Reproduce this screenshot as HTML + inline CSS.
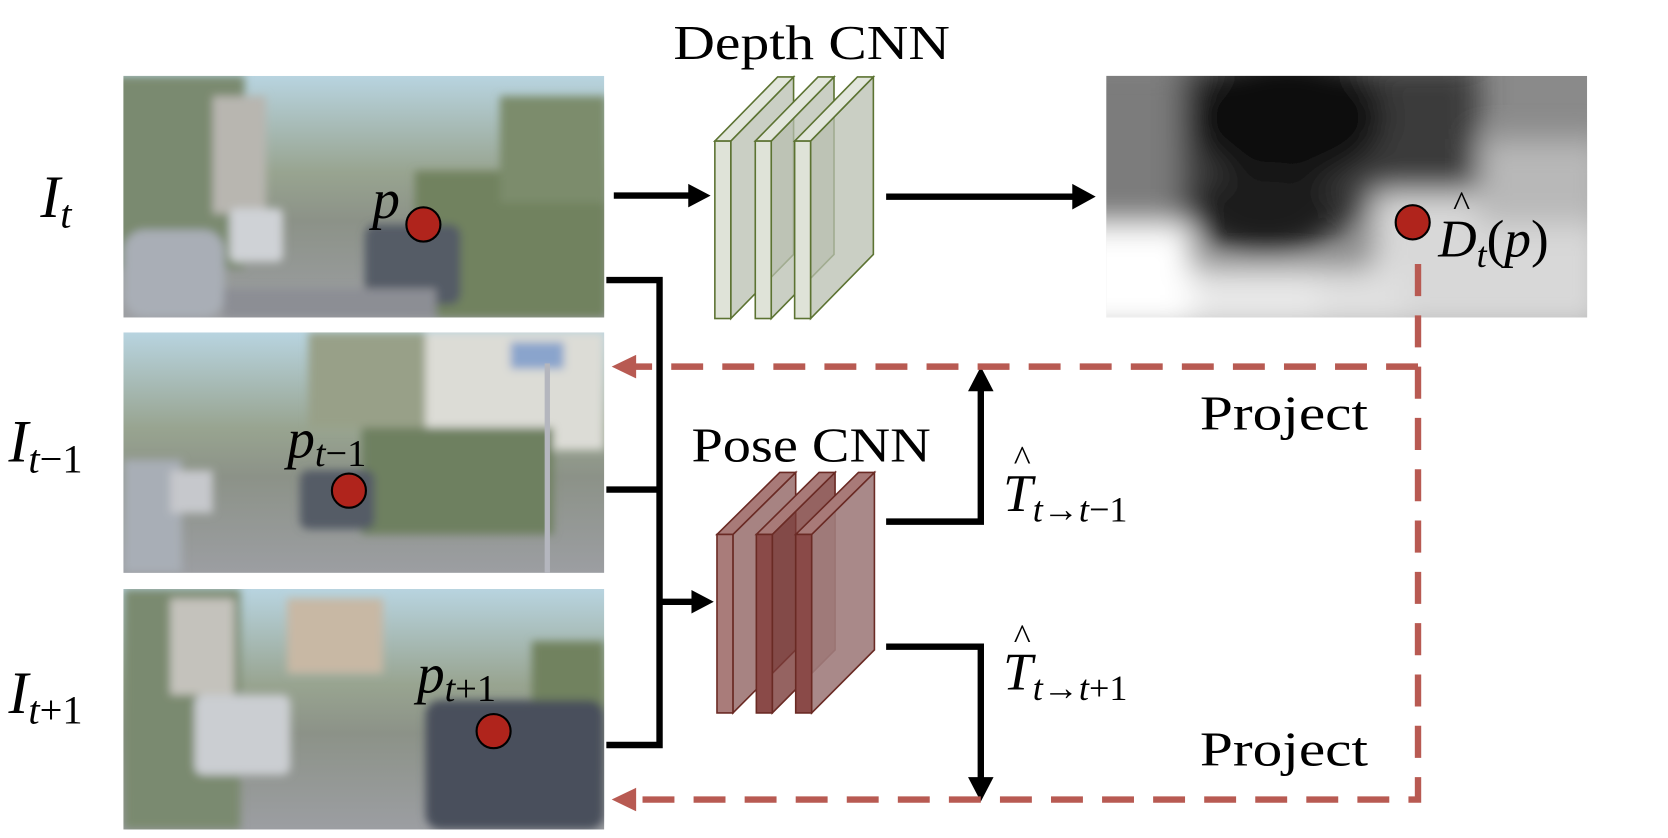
<!DOCTYPE html>
<html><head><meta charset="utf-8"><style>
html,body{margin:0;padding:0;background:#fff;}
svg{display:block;}
text{font-family:"Liberation Serif",serif;fill:#000;}
.m{font-style:italic;}
</style></head><body>
<svg width="1668" height="838" viewBox="0 0 1568 784" preserveAspectRatio="none">
<defs>
<linearGradient id="sky" x1="0" y1="0" x2="0" y2="1"><stop offset="0" stop-color="#b8d4e0"/><stop offset="0.4" stop-color="#98a490"/><stop offset="0.6" stop-color="#8c9288"/><stop offset="1" stop-color="#9c9ea2"/></linearGradient>
<filter id="bl" x="-20%" y="-20%" width="140%" height="140%"><feGaussianBlur stdDeviation="14"/></filter>
<filter id="bl2"><feGaussianBlur stdDeviation="4"/></filter>
<clipPath id="dc"><rect x="1040" y="71" width="452" height="226"/></clipPath>
<clipPath id="p1"><rect x="116" y="71" width="452" height="226"/></clipPath>
<clipPath id="p2"><rect x="116" y="311" width="452" height="225"/></clipPath>
<clipPath id="p3"><rect x="116" y="551" width="452" height="225"/></clipPath>
</defs>

<g clip-path="url(#p1)">
<rect x="116" y="71" width="452" height="226" fill="url(#sky)"/>
<g filter="url(#bl2)">
<rect x="100" y="71" width="130" height="180" fill="#7a8a70"/>
<rect x="200" y="90" width="50" height="110" fill="#b8b6b0"/>
<rect x="390" y="160" width="180" height="137" fill="#71825e"/>
<rect x="470" y="90" width="100" height="100" fill="#7c8c6c"/>
<rect x="116" y="215" width="95" height="82" rx="20" fill="#a9aeb6"/>
<rect x="343" y="210" width="90" height="75" rx="10" fill="#555b66"/>
<rect x="216" y="195" width="50" height="50" rx="6" fill="#cfd2d6"/>
<rect x="210" y="270" width="200" height="27" fill="#8c8e94"/>
</g>
</g>
<g clip-path="url(#p2)">
<rect x="116" y="311" width="452" height="225" fill="url(#sky)"/>
<g filter="url(#bl2)">
<rect x="290" y="311" width="110" height="90" fill="#98a088"/>
<rect x="400" y="311" width="168" height="110" fill="#dcdcd6"/>
<rect x="340" y="400" width="180" height="100" fill="#6e8060"/>
<rect x="116" y="430" width="55" height="106" fill="#a8aeb6"/>
<rect x="160" y="440" width="40" height="40" fill="#c6c8cc"/>
<rect x="282" y="440" width="70" height="55" rx="8" fill="#555b66"/>
<rect x="480" y="320" width="50" height="25" fill="#8aa4cc"/>
</g>
<rect x="512" y="340" width="5" height="196" fill="#b4b6be"/>
</g>
<g clip-path="url(#p3)">
<rect x="116" y="551" width="452" height="225" fill="url(#sky)"/>
<g filter="url(#bl2)">
<rect x="116" y="551" width="110" height="225" fill="#7a8a70"/>
<rect x="160" y="560" width="60" height="90" fill="#c4c2bc"/>
<rect x="270" y="560" width="90" height="70" fill="#c8b8a4"/>
<rect x="500" y="600" width="68" height="120" fill="#71825e"/>
<rect x="183" y="650" width="90" height="75" rx="8" fill="#cbced2"/>
<rect x="400" y="655" width="168" height="121" rx="14" fill="#4a505c"/>
</g>
</g>

<g clip-path="url(#dc)">
<rect x="1040" y="71" width="452" height="226" fill="#8a8a8a"/>
<g filter="url(#bl)">
<rect x="1000" y="60" width="120" height="150" fill="#7c7c7c"/>
<rect x="1110" y="60" width="280" height="150" fill="#3a3a3a"/>
<ellipse cx="1210" cy="110" rx="90" ry="60" fill="#080808"/>
<ellipse cx="1190" cy="200" rx="70" ry="40" fill="#1a1a1a"/>
<rect x="1000" y="210" width="120" height="100" fill="#ffffff"/>
<rect x="1120" y="250" width="120" height="60" fill="#e8e8e8"/>
<rect x="1290" y="180" width="220" height="130" fill="#d8d8d8"/>
<rect x="1390" y="130" width="120" height="80" fill="#b8b8b8"/>
<rect x="1240" y="250" width="80" height="60" fill="#e0e0e0"/>
</g>
</g>

<text x="38" y="203" font-size="56" class="m">I<tspan font-size="38" dy="10">t</tspan></text>
<text x="8" y="432" font-size="56" class="m">I<tspan font-size="38" dy="10">t</tspan><tspan font-size="38" font-style="normal">−1</tspan></text>
<text x="8" y="667" font-size="56" class="m">I<tspan font-size="38" dy="10">t</tspan><tspan font-size="38" font-style="normal">+1</tspan></text>

<text x="633" y="55" font-size="46" textLength="260" lengthAdjust="spacingAndGlyphs">Depth CNN</text>
<text x="650" y="432" font-size="46" textLength="225" lengthAdjust="spacingAndGlyphs">Pose CNN</text>

<g stroke="#5c7332" stroke-width="1.5">
<g><polygon points="687,132 746,72 746,238 687,298" fill="#b8bfb0" fill-opacity="0.75"/><polygon points="672,132 731,72 746,72 687,132" fill="#e2e6dc"/><rect x="672" y="132" width="15" height="166" fill="#dfe3d8"/></g>
<g><polygon points="725,132 784,72 784,238 725,298" fill="#b8bfb0" fill-opacity="0.75"/><polygon points="710,132 769,72 784,72 725,132" fill="#e2e6dc"/><rect x="710" y="132" width="15" height="166" fill="#dfe3d8"/></g>
<g><polygon points="762,132 821,72 821,238 762,298" fill="#b8bfb0" fill-opacity="0.75"/><polygon points="747,132 806,72 821,72 762,132" fill="#e2e6dc"/><rect x="747" y="132" width="15" height="166" fill="#dfe3d8"/></g>
</g>

<g stroke="#6a2a24" stroke-width="1.5">
<g><polygon points="689,500 748,442 748,608 689,667" fill="#8a5a58" fill-opacity="0.75"/><polygon points="674,500 733,442 748,442 689,500" fill="#a87a78"/><rect x="674" y="500" width="15" height="167" fill="#a97c7a"/></g>
<g><polygon points="726,500 785,442 785,608 726,667" fill="#7a3c3a" fill-opacity="0.8"/><polygon points="711,500 770,442 785,442 726,500" fill="#a87a78"/><rect x="711" y="500" width="15" height="167" fill="#8a4a48"/></g>
<g><polygon points="763,500 822,442 822,608 763,667" fill="#a07c7c" fill-opacity="0.9"/><polygon points="748,500 807,442 822,442 763,500" fill="#a87a78"/><rect x="748" y="500" width="15" height="167" fill="#8a4a48"/></g>
</g>

<g stroke="#000" stroke-width="6" fill="none">
<line x1="577" y1="183" x2="650" y2="183"/>
<line x1="833" y1="184" x2="1012" y2="184"/>
<polyline points="570,262 620,262 620,697 570,697"/>
<line x1="570" y1="458" x2="620" y2="458"/>
<line x1="620" y1="563" x2="652" y2="563"/>
<polyline points="833,488 922,488 922,362"/>
<polyline points="833,605 922,605 922,732"/>
</g>
<g fill="#000">
<polygon points="668,183 647,172 647,194"/>
<polygon points="1030,184 1008,172 1008,196"/>
<polygon points="671,563 650,552 650,574"/>
<polygon points="922,343 910,366 934,366"/>
<polygon points="922,750 910,727 934,727"/>
</g>

<g stroke="#b85a52" stroke-width="6" fill="none" stroke-dasharray="30,18">
<polyline points="1333,247 1333,343 595,343"/>
<polyline points="1333,343 1333,748 595,748"/>
</g>
<polygon points="575,343 598,332 598,354" fill="#b85a52"/>
<polygon points="575,748 598,737 598,759" fill="#b85a52"/>

<text x="1128" y="402" font-size="46" textLength="158" lengthAdjust="spacingAndGlyphs">Project</text>
<text x="1128" y="716" font-size="46" textLength="158" lengthAdjust="spacingAndGlyphs">Project</text>

<text x="943" y="478" font-size="50" class="m">T<tspan font-size="34" dy="10">t→t</tspan><tspan font-size="34" font-style="normal">−1</tspan></text>
<text x="953" y="440" font-size="34">^</text>
<text x="943" y="645" font-size="50" class="m">T<tspan font-size="34" dy="10">t→t</tspan><tspan font-size="34" font-style="normal">+1</tspan></text>
<text x="953" y="607" font-size="34">^</text>

<text x="1352" y="240" font-size="50" class="m">D<tspan font-size="34" dy="10">t</tspan><tspan dy="-10" font-style="normal">(</tspan>p<tspan font-style="normal">)</tspan></text>
<text x="1366" y="202" font-size="34">^</text>

<text x="350" y="204" font-size="52" class="m">p</text>
<text x="270" y="428" font-size="52" class="m">p<tspan font-size="36" dy="8">t</tspan><tspan font-size="36" font-style="normal">−1</tspan></text>
<text x="392" y="648" font-size="52" class="m">p<tspan font-size="36" dy="8">t</tspan><tspan font-size="36" font-style="normal">+1</tspan></text>
<g fill="#b0241c" stroke="#000" stroke-width="2">
<circle cx="398" cy="210" r="16"/>
<circle cx="328" cy="459" r="16"/>
<circle cx="464" cy="684" r="16"/>
<circle cx="1328" cy="208" r="16"/>
</g>
</svg>
</body></html>
